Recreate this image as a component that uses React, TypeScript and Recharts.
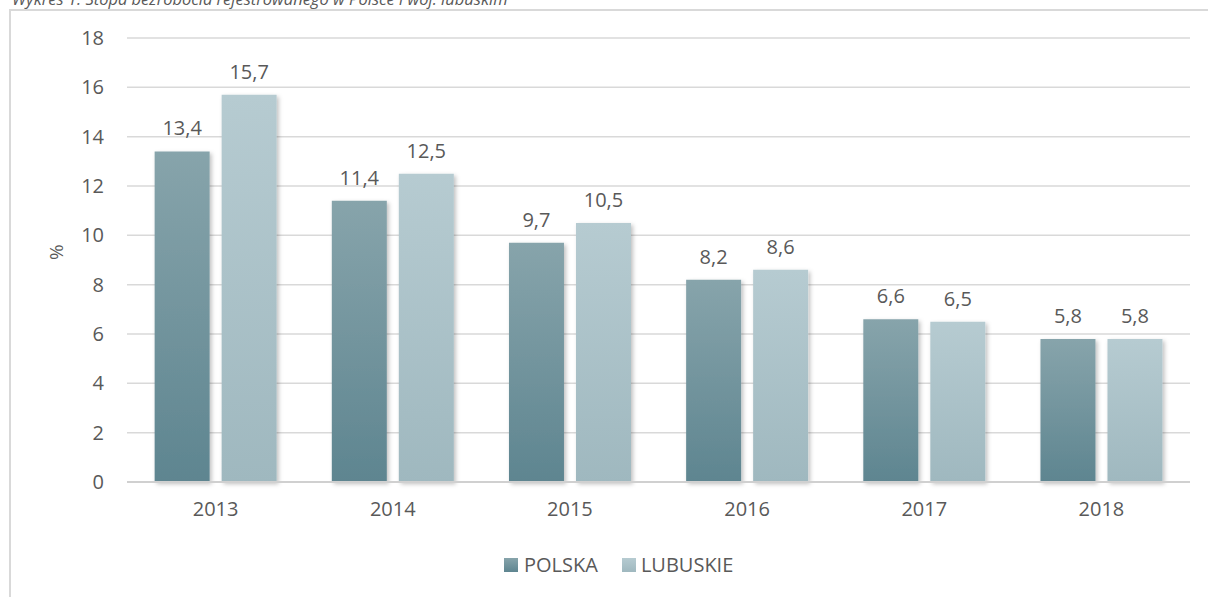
import React from 'react';
import { BarChart, Bar, XAxis, YAxis, CartesianGrid, LabelList } from 'recharts';

const years = ['2013', '2014', '2015', '2016', '2017', '2018'];
const polska = [13.4, 11.4, 9.7, 8.2, 6.6, 5.8];
const lubuskie = [15.7, 12.5, 10.5, 8.6, 6.5, 5.8];
const yTicks = [0, 2, 4, 6, 8, 10, 12, 14, 16, 18];
const seriesNames = ['POLSKA', 'LUBUSKIE'];
const title = 'Wykres 1. Stopa bezrobocia rejestrowanego w Polsce i woj. lubuskim';

const data = years.map((y, i) => ({ year: y, polska: polska[i], lubuskie: lubuskie[i] }));

const FONT = '"Open Sans", "Noto Sans", sans-serif';
const TEXT = '#595959';

const fmt = (v: any) => String(v).replace('.', ',');

const LegendContent = () => (
  <div style={{ display: 'flex', alignItems: 'center', fontFamily: FONT, fontSize: 20, color: TEXT, lineHeight: '24px' }}>
    <span style={{ display: 'flex', alignItems: 'center', marginRight: 24 }}>
      <span style={{ width: 14, height: 14, background: 'linear-gradient(#87a4ab, #5e8590)', display: 'inline-block', marginRight: 6 }} />
      {seriesNames[0]}
    </span>
    <span style={{ display: 'flex', alignItems: 'center' }}>
      <span style={{ width: 14, height: 14, background: 'linear-gradient(#b6cbd1, #9fb8bf)', display: 'inline-block', marginRight: 5 }} />
      {seriesNames[1]}
    </span>
  </div>
);

export default function App() {
  return (
    <div style={{ position: 'absolute', left: 0, top: 0, width: 1208, height: 597, overflow: 'hidden', background: '#fff' }}>
      <div style={{ position: 'absolute', left: 12, top: -13, fontFamily: FONT, fontStyle: 'italic', fontSize: 16.5, color: TEXT, whiteSpace: 'nowrap' }}>
        {title}
      </div>
      <div style={{ position: 'absolute', left: 9, top: 9, width: 1300, height: 700, borderLeft: '2px solid #d9d9d9', borderTop: '2px solid #d9d9d9' }} />
      <div style={{ position: 'absolute', left: 0, top: 0 }}>
        <BarChart
          width={1208}
          height={597}
          data={data}
          margin={{ top: 38, right: 18, left: 0, bottom: 75 }}
          barCategoryGap="15.6%"
          barGap={12}
        >
          <defs>
            <linearGradient id="gPol" x1="0" y1="0" x2="0" y2="1">
              <stop offset="0%" stopColor="#87a4ab" />
              <stop offset="100%" stopColor="#5e8590" />
            </linearGradient>
            <linearGradient id="gLub" x1="0" y1="0" x2="0" y2="1">
              <stop offset="0%" stopColor="#b6cbd1" />
              <stop offset="100%" stopColor="#9fb8bf" />
            </linearGradient>
            <filter id="shadow" x="-20%" y="-5%" width="140%" height="115%">
              <feDropShadow dx="2" dy="2" stdDeviation="2" floodColor="#000" floodOpacity="0.25" />
            </filter>
          </defs>
          <CartesianGrid vertical={false} stroke="#d9d9d9" strokeWidth={1.5} />
          <XAxis
            dataKey="year"
            height={40}
            tickLine={false}
            axisLine={{ stroke: '#d0d0d0', strokeWidth: 2 }}
            tick={{ fill: TEXT, fontSize: 20, fontFamily: FONT }}
            tickSize={0}
            tickMargin={20}
          />
          <YAxis
            width={127}
            domain={[0, 18]}
            ticks={yTicks}
            interval={0}
            axisLine={false}
            tickLine={false}
            tickSize={0}
            tickMargin={23}
            tick={{ fill: TEXT, fontSize: 20, fontFamily: FONT }}
            label={{ value: '%', angle: -90, position: 'insideLeft', offset: 56, fill: TEXT, fontSize: 19, fontFamily: FONT }}
          />
          <Bar dataKey="polska" name={seriesNames[0]} fill="url(#gPol)" filter="url(#shadow)" isAnimationActive={false}>
            <LabelList dataKey="polska" position="top" offset={16} formatter={fmt} fill={TEXT} fontSize={20} fontFamily={FONT} />
          </Bar>
          <Bar dataKey="lubuskie" name={seriesNames[1]} fill="url(#gLub)" filter="url(#shadow)" isAnimationActive={false}>
            <LabelList dataKey="lubuskie" position="top" offset={16} formatter={fmt} fill={TEXT} fontSize={20} fontFamily={FONT} />
          </Bar>
        </BarChart>
      </div>
      <div style={{ position: 'absolute', left: 504, top: 553 }}>
        <LegendContent />
      </div>
    </div>
  );
}
